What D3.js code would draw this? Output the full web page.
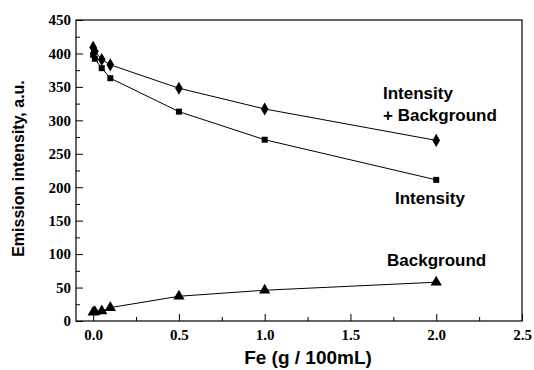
<!DOCTYPE html>
<html>
<head>
<meta charset="utf-8">
<script src="https://cdn.jsdelivr.net/npm/d3@7"></script>
<style>
  body { margin: 0; background: #fff; }
  svg text.tk { font-family: "Liberation Serif", "DejaVu Serif", serif; font-weight: 700; font-size: 15px; }
</style>
</head>
<body>
<div id="chart"></div>
<script>
// Fe concentration (g / 100mL)
const fe = [0, 0.01, 0.05, 0.1, 0.5, 1.0, 2.0];
const intensityPlusBg = [409, 403, 391, 383, 348, 317, 270];
const intensity = [398, 392, 378, 363, 313, 271, 211];
const background = [13, 14, 15, 20, 37, 46, 58];

const xTicks = [0, 0.5, 1.0, 1.5, 2.0, 2.5];
const yTicks = [0, 50, 100, 150, 200, 250, 300, 350, 400, 450];

const width = 534, height = 370;
const margin = { top: 20, right: 12, bottom: 49, left: 76 };
const sans = "Liberation Sans, Arial, sans-serif";

const svg = d3.select("#chart").append("svg")
  .attr("width", width)
  .attr("height", height);

const x = d3.scaleLinear().domain([-0.1, 2.5]).range([margin.left, width - margin.right]);
const y = d3.scaleLinear().domain([0, 450]).range([height - margin.bottom, margin.top]);

// frame
svg.append("rect")
  .attr("x", margin.left).attr("y", margin.top)
  .attr("width", x.range()[1] - margin.left)
  .attr("height", y.range()[0] - margin.top)
  .attr("fill", "none").attr("stroke", "#000").attr("stroke-width", 1.2);

function styleTicks(g) {
  g.select(".domain").remove();
  g.attr("font-family", null).attr("font-size", null);
  g.selectAll(".tick text").attr("class", "tk");
}

// x axis, inward ticks + minor ticks
svg.append("g").attr("transform", `translate(0,${y(0)})`)
  .call(d3.axisBottom(x).tickValues(xTicks).tickFormat(d3.format(".1f")).tickSizeInner(-7).tickSizeOuter(0))
  .call(styleTicks)
  .call(g => g.selectAll("text").attr("y", 8).attr("dy", "0.71em"));
svg.append("g").attr("transform", `translate(0,${y(0)})`)
  .call(d3.axisBottom(x).tickValues([0.25, 0.75, 1.25, 1.75, 2.25]).tickFormat("").tickSizeInner(-4).tickSizeOuter(0))
  .call(styleTicks);

// y axis
svg.append("g").attr("transform", `translate(${margin.left},0)`)
  .call(d3.axisLeft(y).tickValues(yTicks).tickSizeInner(-7).tickSizeOuter(0))
  .call(styleTicks)
  .call(g => g.selectAll("text").attr("x", -5));
svg.append("g").attr("transform", `translate(${margin.left},0)`)
  .call(d3.axisLeft(y).tickValues(d3.range(25, 450, 50)).tickFormat("").tickSizeInner(-4).tickSizeOuter(0))
  .call(styleTicks);

// lines and markers
const series = [
  { vals: intensityPlusBg, sym: d3.symbolDiamond, size: 50 },
  { vals: intensity, sym: d3.symbolSquare, size: 36 },
  { vals: background, sym: d3.symbolTriangle, size: 55 }
];

const line = d3.line().x(d => x(d[0])).y(d => y(d[1]));

series.forEach(s => {
  const pts = fe.map((f, i) => [f, s.vals[i]]);
  svg.append("path")
    .attr("d", line(pts))
    .attr("fill", "none")
    .attr("stroke", "#000")
    .attr("stroke-width", 1);
  svg.selectAll(null).data(pts).enter().append("path")
    .attr("transform", d => `translate(${x(d[0])},${y(d[1])})`)
    .attr("d", d3.symbol().type(s.sym).size(s.size))
    .attr("fill", "#000");
});

// annotations
const ann = svg.append("g").attr("font-family", sans).attr("font-weight", "bold").attr("font-size", 17);
ann.append("text").attr("x", 383).attr("y", 99).text("Intensity");
ann.append("text").attr("x", 383).attr("y", 121).text("+ Background");
ann.append("text").attr("x", 395).attr("y", 204).text("Intensity");
ann.append("text").attr("x", 387).attr("y", 266).text("Background");

// axis titles
svg.append("text")
  .attr("font-family", sans).attr("font-weight", "bold").attr("font-size", 19)
  .attr("text-anchor", "middle")
  .attr("x", 308).attr("y", 364)
  .text("Fe (g / 100mL)");
svg.append("text")
  .attr("font-family", sans).attr("font-weight", "bold").attr("font-size", 16)
  .attr("text-anchor", "middle")
  .attr("transform", `translate(24,${(margin.top + y(0)) / 2 - 2}) rotate(-90)`)
  .text("Emission intensity, a.u.");
</script>
</body>
</html>
